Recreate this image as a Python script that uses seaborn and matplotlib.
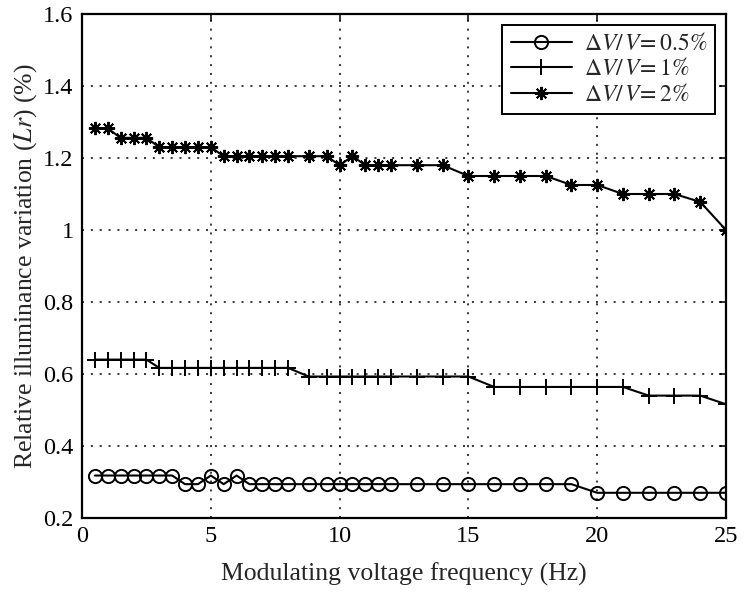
import matplotlib
matplotlib.use("Agg")
import matplotlib.pyplot as plt
import pandas as pd
import seaborn as sns
from matplotlib.ticker import FuncFormatter

# Modulating frequency (Hz) shared by the three curves
freq_hz = [0.5, 1, 1.5, 2, 2.5, 3, 3.5, 4, 4.5, 5, 5.5, 6, 6.5, 7, 7.5, 8,
           8.8, 9.5, 10, 10.5, 11, 11.5, 12,
           13, 14, 15, 16, 17, 18, 19, 20, 21, 22, 23, 24, 25]

# Relative illuminance variation Lr (%) for each voltage fluctuation level
lr_half_pct = [0.318, 0.318, 0.318, 0.318, 0.318, 0.318, 0.318, 0.294, 0.294, 0.318,
               0.294, 0.318, 0.294, 0.294, 0.294, 0.294,
               0.294, 0.294, 0.294, 0.294, 0.294, 0.294, 0.294,
               0.294, 0.294, 0.294, 0.294, 0.294, 0.294, 0.294,
               0.270, 0.270, 0.270, 0.270, 0.270, 0.270]
lr_one_pct = [0.64, 0.64, 0.64, 0.64, 0.64, 0.617, 0.617, 0.617, 0.617, 0.617,
              0.617, 0.617, 0.617, 0.617, 0.617, 0.617,
              0.593, 0.593, 0.593, 0.593, 0.593, 0.593, 0.593,
              0.593, 0.593, 0.593, 0.564, 0.564, 0.564, 0.564, 0.564, 0.564,
              0.54, 0.54, 0.54, 0.516]
lr_two_pct = [1.282, 1.282, 1.256, 1.256, 1.256, 1.23, 1.23, 1.23, 1.23, 1.23,
              1.205, 1.205, 1.205, 1.205, 1.205, 1.205,
              1.205, 1.205, 1.18, 1.205, 1.18, 1.18, 1.18,
              1.18, 1.18, 1.15, 1.15, 1.15, 1.15, 1.125, 1.125,
              1.10, 1.10, 1.10, 1.078, 1.0]

series_labels = [r"$\Delta V/\,V\!= 0.5\%$", r"$\Delta V/\,V\!= 1\%$", r"$\Delta V/\,V\!= 2\%$"]
x_ticks = [0, 5, 10, 15, 20, 25]
y_ticks = [0.2, 0.4, 0.6, 0.8, 1.0, 1.2, 1.4, 1.6]

frames = []
for label, values in zip(series_labels, [lr_half_pct, lr_one_pct, lr_two_pct]):
    frames.append(pd.DataFrame({"freq": freq_hz, "Lr": values, "series": label}))
df = pd.concat(frames, ignore_index=True)

sns.set_style("white")
plt.rcParams["font.family"] = ["Liberation Serif", "DejaVu Serif"]
plt.rcParams["mathtext.fontset"] = "stix"

fig = plt.figure(figsize=(7.56, 5.94), dpi=100)
ax = fig.add_axes([82 / 756, 1 - 518 / 594, (726 - 82) / 756, (518 - 14) / 594])

marker_styles = ["o", "+", (8, 2, 0)]
marker_sizes = [9.5, 11, 9.5]
for label, marker, ms in zip(series_labels, marker_styles, marker_sizes):
    sns.lineplot(data=df[df["series"] == label], x="freq", y="Lr",
                 color="black", linewidth=1.5, marker=marker, markersize=ms,
                 markerfacecolor="none", markeredgecolor="black",
                 markeredgewidth=1.4, errorbar=None, label=label, ax=ax)

ax.set_xlim(0, 25)
ax.set_ylim(0.2, 1.6)
ax.set_xticks(x_ticks)
ax.set_yticks(y_ticks)
ax.yaxis.set_major_formatter(FuncFormatter(lambda v, _: f"{v:g}"))
ax.grid(True, color="black", linestyle=(0, (1.3, 4.5)), linewidth=1.1)
ax.set_axisbelow(True)

for spine in ax.spines.values():
    spine.set_visible(True)
    spine.set_color("black")
    spine.set_linewidth(1.6)
ax.tick_params(direction="in", top=True, right=True, length=5, width=1.1,
               labelsize=17.5, colors="black", pad=6)

ax.set_xlabel("Modulating voltage frequency (Hz)", fontsize=18.5, labelpad=11)
ax.set_ylabel("Relative illuminance variation ($Lr$) (%)", fontsize=18.5, labelpad=3)

leg = ax.legend(loc="upper right", frameon=True, fancybox=False, framealpha=1,
                edgecolor="black", fontsize=17, handlelength=2.6,
                handletextpad=0.5, borderaxespad=0.45, labelspacing=0.15,
                borderpad=0.35)
leg.get_frame().set_linewidth(1.4)

fig.savefig("out.png", dpi=100)
